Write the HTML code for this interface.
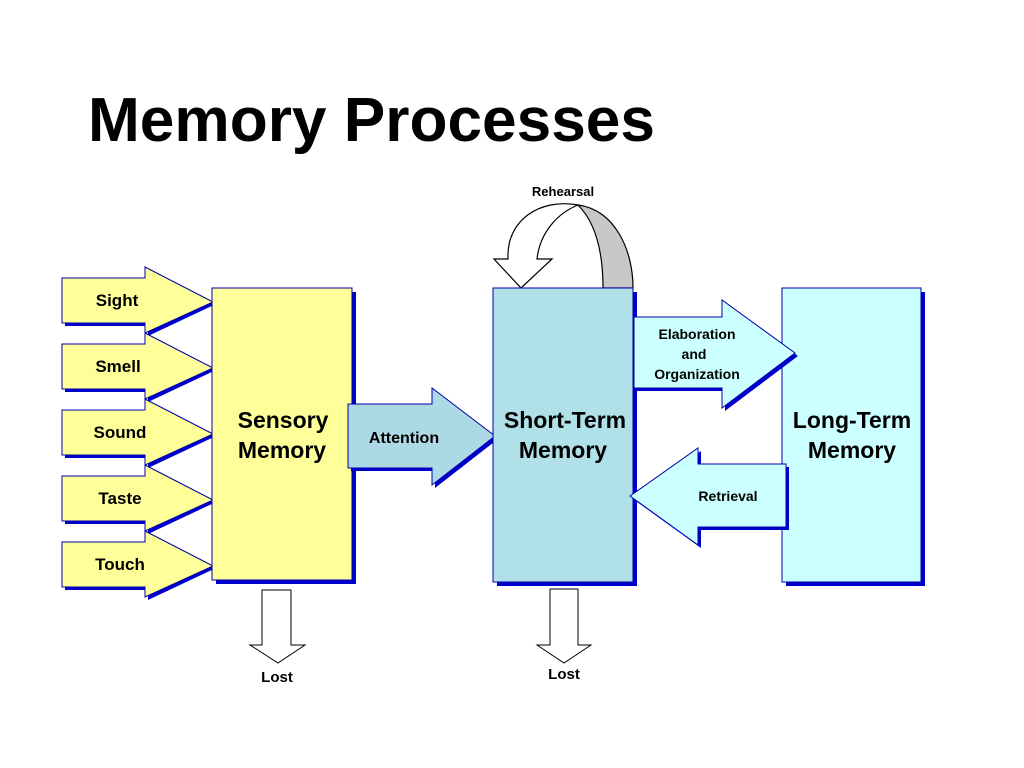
<!DOCTYPE html>
<html><head><meta charset="utf-8"><style>
body{margin:0;background:#fff;width:1024px;height:768px;overflow:hidden}
svg{display:block}
text{font-family:"Liberation Sans",Arial,sans-serif;font-weight:bold;fill:#000}
</style></head><body>
<svg width="1024" height="768" viewBox="0 0 1024 768" xmlns="http://www.w3.org/2000/svg">
<text x="88" y="141" font-size="62" textLength="567" lengthAdjust="spacingAndGlyphs">Memory Processes</text>

<!-- Rehearsal -->
<path d="M578,205 C615,210 633,250 633,288 L603,288 C603,250 595,222 578,205 Z" fill="#c8c8c8" stroke="#000" stroke-width="1.2"/>
<path d="M508,259 C506,220 540,198 578,205 C558,213 540,232 537,259 L552,259 L521,288 L494,259 Z" fill="#fff" stroke="#000" stroke-width="1.2"/>
<text x="563" y="196" font-size="13" text-anchor="middle">Rehearsal</text>

<!-- sense arrows -->
<g id="sa">
<polygon points="65,281 148,281 148,270 216,304 148,336 148,326 65,326" fill="#0000cc"/>
<polygon points="62,278 145,278 145,267 213,302 145,333 145,323 62,323" fill="#ffff99" stroke="#0000aa" stroke-width="1"/>
</g>
<use href="#sa" y="66"/>
<use href="#sa" y="132"/>
<use href="#sa" y="198"/>
<use href="#sa" y="264"/>
<text x="117" y="306" font-size="17" text-anchor="middle">Sight</text>
<text x="118" y="372" font-size="17" text-anchor="middle">Smell</text>
<text x="120" y="438" font-size="17" text-anchor="middle">Sound</text>
<text x="120" y="504" font-size="17" text-anchor="middle">Taste</text>
<text x="120" y="570" font-size="17" text-anchor="middle">Touch</text>

<!-- Sensory box -->
<rect x="216" y="292" width="140" height="292" fill="#0000cc"/>
<rect x="212" y="288" width="140" height="292" fill="#ffff99" stroke="#0000aa" stroke-width="1"/>
<text x="283" y="428" font-size="23" text-anchor="middle">Sensory</text>
<text x="282" y="458" font-size="23" text-anchor="middle">Memory</text>

<!-- Attention -->
<polygon points="351,407 435,407 435,391 498,439 435,488 435,471 351,471" fill="#0000cc"/>
<polygon points="348,404 432,404 432,388 495,436 432,485 432,468 348,468" fill="#add8e6" stroke="#0000aa" stroke-width="1"/>
<text x="404" y="443" font-size="16" text-anchor="middle">Attention</text>

<!-- STM -->
<rect x="497" y="292" width="140" height="294" fill="#0000cc"/>
<rect x="493" y="288" width="140" height="294" fill="#b0e0e8" stroke="#0000aa" stroke-width="1"/>
<text x="565" y="428" font-size="23" text-anchor="middle">Short-Term</text>
<text x="563" y="458" font-size="23" text-anchor="middle">Memory</text>

<!-- LTM -->
<rect x="786" y="292" width="139" height="294" fill="#0000cc"/>
<rect x="782" y="288" width="139" height="294" fill="#ccffff" stroke="#0000aa" stroke-width="1"/>
<text x="852" y="428" font-size="23" text-anchor="middle">Long-Term</text>
<text x="852" y="458" font-size="23" text-anchor="middle">Memory</text>

<!-- Elaboration -->
<polygon points="637,320 725,320 725,303 798,356 725,411 725,391 637,391" fill="#0000cc"/>
<polygon points="634,317 722,317 722,300 795,353 722,408 722,388 634,388" fill="#ccffff" stroke="#0000aa" stroke-width="1"/>
<text x="697" y="339" font-size="14" text-anchor="middle">Elaboration</text>
<text x="694" y="359" font-size="14" text-anchor="middle">and</text>
<text x="697" y="379" font-size="14" text-anchor="middle">Organization</text>

<!-- Retrieval -->
<polygon points="633,499 701,451 701,467 789,467 789,530 701,530 701,548" fill="#0000cc"/>
<polygon points="630,496 698,448 698,464 786,464 786,527 698,527 698,545" fill="#ccffff" stroke="#0000aa" stroke-width="1"/>
<text x="728" y="501" font-size="14" text-anchor="middle">Retrieval</text>

<!-- Lost arrows -->
<polygon points="262,590 291,590 291,645 305,645 278,663 250,645 262,645" fill="#fff" stroke="#000" stroke-width="1"/>
<text x="277" y="682" font-size="15" text-anchor="middle">Lost</text>
<polygon points="550,589 578,589 578,645 591,645 564,663 537,645 550,645" fill="#fff" stroke="#000" stroke-width="1"/>
<text x="564" y="679" font-size="15" text-anchor="middle">Lost</text>
</svg>
</body></html>
